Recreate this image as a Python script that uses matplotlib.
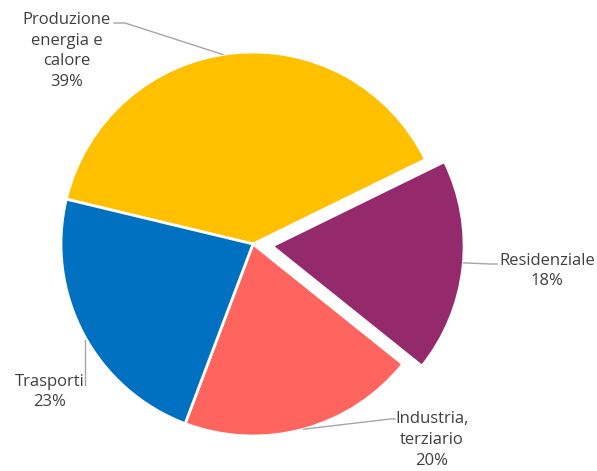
import numpy as np
import matplotlib.pyplot as plt

# dati
categorie = ["Produzione\nenergia e\ncalore", "Residenziale", "Industria,\nterziario", "Trasporti"]
percentuali = [39, 18, 20, 23]
colori = ["#FFC000", "#942A6B", "#FF645E", "#0070C0"]
esplodi = [0, 0.1, 0, 0]  # frazione del raggio

W, H = 597, 471
fig = plt.figure(figsize=(W / 100, H / 100), dpi=100)
ax = fig.add_axes([0, 0, 1, 1])

cx, cy, r = 253, H - 244, 192
wedges, _ = ax.pie(percentuali, colors=colori, explode=[e * r for e in esplodi],
                   startangle=166.5, counterclock=False, center=(cx, cy), radius=r,
                   wedgeprops=dict(edgecolor="white", linewidth=2))
ax.set_xlim(0, W)
ax.set_ylim(0, H)
ax.set_aspect("equal")
ax.axis("off")

# etichette: posizione del testo (pixel) e percorso della linea guida
etichette = [
    dict(xy=(67, H - 51), path=[(125, H - 23), (114, H - 23)], frac=0.52),
    dict(xy=(547, H - 271), path=[(490, H - 264), (497, H - 264)], frac=0.52),
    dict(xy=(432, H - 440), path=[(390, H - 419), (395, H - 419)], frac=0.5),
    dict(xy=(50, H - 392), path=[(85, H - 385)], frac=0.5),
]

for w, cat, p, et in zip(wedges, categorie, percentuali, etichette):
    ang = np.deg2rad(w.theta1 + (w.theta2 - w.theta1) * et["frac"])
    ox, oy = w.center
    x0, y0 = ox + w.r * np.cos(ang), oy + w.r * np.sin(ang)
    if cat == "Trasporti":
        x0 = et["path"][0][0]
        y0 = H - 340
    xs = [x0] + [q[0] for q in et["path"]]
    ys = [y0] + [q[1] for q in et["path"]]
    ax.plot(xs, ys, color="#A6A6A6", linewidth=1)
    ax.text(et["xy"][0], et["xy"][1], f"{cat}\n{p}%", ha="center", va="center",
            fontsize=12, color="#404040", family="Open Sans", linespacing=1.38)

fig.savefig("out.png", dpi=100)
